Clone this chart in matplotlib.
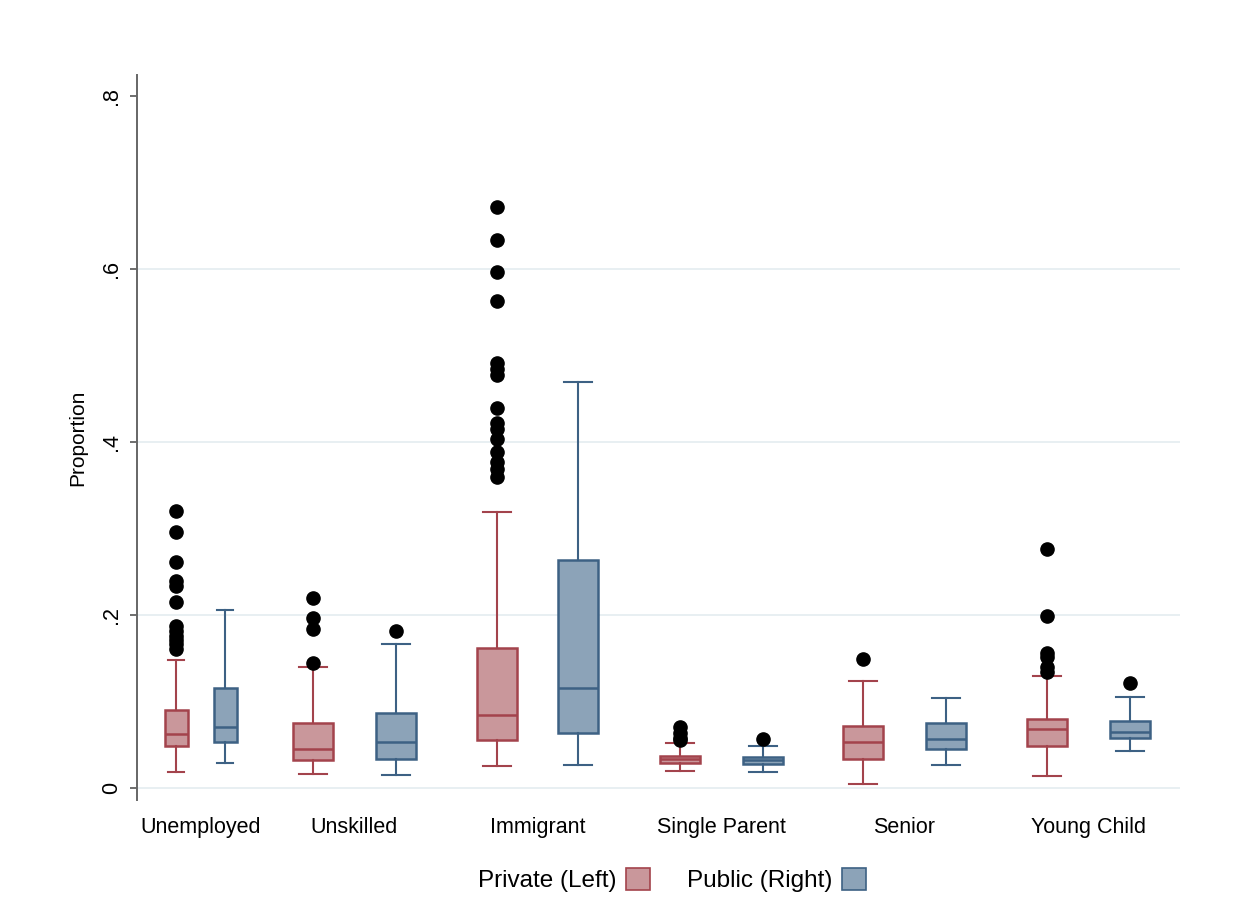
import matplotlib

matplotlib.use("Agg")
import matplotlib.pyplot as plt
from matplotlib.patches import Patch

plt.rcParams["font.family"] = ["Liberation Sans", "DejaVu Sans"]

# Data (box summary stats per group)
categories = ["Unemployed", "Unskilled", "Immigrant", "Single Parent",
              "Senior", "Young Child"]

priv_q1 = [0.049, 0.032, 0.056, 0.0285, 0.0335, 0.048]
priv_med = [0.062, 0.045, 0.084, 0.033, 0.053, 0.068]
priv_q3 = [0.090, 0.075, 0.162, 0.037, 0.072, 0.080]
priv_lo = [0.019, 0.016, 0.025, 0.020, 0.005, 0.0135]
priv_hi = [0.148, 0.140, 0.319, 0.052, 0.124, 0.129]
priv_out = [
    [0.320, 0.296, 0.261, 0.239, 0.233, 0.215, 0.187, 0.181, 0.176,
     0.171, 0.166, 0.161],
    [0.220, 0.197, 0.184, 0.145],
    [0.672, 0.633, 0.596, 0.563, 0.491, 0.484, 0.477, 0.439, 0.422,
     0.415, 0.404, 0.389, 0.377, 0.369, 0.360],
    [0.070, 0.063, 0.058, 0.055],
    [0.149],
    [0.276, 0.199, 0.156, 0.151, 0.140, 0.1345],
]

pub_q1 = [0.0535, 0.034, 0.064, 0.028, 0.045, 0.0575]
pub_med = [0.070, 0.053, 0.116, 0.032, 0.057, 0.065]
pub_q3 = [0.116, 0.087, 0.264, 0.036, 0.075, 0.078]
pub_lo = [0.029, 0.015, 0.027, 0.019, 0.026, 0.043]
pub_hi = [0.206, 0.166, 0.469, 0.049, 0.104, 0.105]
pub_out = [[], [0.1815], [], [0.0566], [], [0.121]]

# Layout (x in plot-region pixels, measured from the y axis)
PRIV_X = [39, 176, 360, 543, 726, 910]
PUB_X = [88, 259, 441, 626, 809, 993]
WIDTHS = [23, 40, 40, 40, 40, 40]

C_PRIV_FILL, C_PRIV_EDGE = "#c9979b", "#a3434c"
C_PUB_FILL, C_PUB_EDGE = "#8ca3b8", "#3d6184"


def stats(q1, med, q3, lo, hi, out):
    return [dict(q1=a, med=b, q3=c, whislo=d, whishi=e, fliers=f)
            for a, b, c, d, e, f in zip(q1, med, q3, lo, hi, out)]


def draw(ax, st, pos, fill, edge):
    ax.bxp(st, positions=pos, widths=WIDTHS,
           capwidths=[w * 0.68 for w in WIDTHS], patch_artist=True,
           boxprops=dict(facecolor=fill, edgecolor=edge, linewidth=1.8),
           medianprops=dict(color=edge, linewidth=1.8),
           whiskerprops=dict(color=edge, linewidth=1.5),
           capprops=dict(color=edge, linewidth=1.5),
           flierprops=dict(marker="o", markerfacecolor="black",
                           markeredgecolor="black", markersize=9.5))


fig = plt.figure(figsize=(12.49, 9.09), dpi=100)
ax = fig.add_axes([137 / 1249, 109 / 909, 1043 / 1249, 725 / 909])

for yv in [0, 0.2, 0.4, 0.6]:
    ax.axhline(yv, color="#e6eef1", lw=1.3, zorder=0)

draw(ax, stats(priv_q1, priv_med, priv_q3, priv_lo, priv_hi, priv_out),
     PRIV_X, C_PRIV_FILL, C_PRIV_EDGE)
draw(ax, stats(pub_q1, pub_med, pub_q3, pub_lo, pub_hi, pub_out),
     PUB_X, C_PUB_FILL, C_PUB_EDGE)

ax.set_xlim(0, 1043)
ax.set_ylim(-0.0139, 0.8243)
ax.set_xticks([(a + b) / 2 for a, b in zip(PRIV_X, PUB_X)])
ax.set_xticklabels(categories, fontsize=15.5)
ax.tick_params(axis="x", length=0, pad=12)
ax.set_yticks([0, 0.2, 0.4, 0.6, 0.8])
ax.set_yticklabels(["0", ".2", ".4", ".6", ".8"], rotation=90, va="center",
                   fontsize=15.5)
ax.tick_params(axis="y", length=5, width=1.2, color="#555555", pad=6)
ax.set_ylabel("Proportion", fontsize=15, labelpad=10)
for s in ["top", "right", "bottom"]:
    ax.spines[s].set_visible(False)
ax.spines["left"].set_color("#666666")
ax.spines["left"].set_linewidth(1.4)

handles = [Patch(facecolor=C_PRIV_FILL, edgecolor=C_PRIV_EDGE, lw=1.2),
           Patch(facecolor=C_PUB_FILL, edgecolor=C_PUB_EDGE, lw=1.2)]
fig.legend(handles, ["Private (Left)", "Public (Right)"], loc="center",
           bbox_to_anchor=(0.538, 0.032), ncol=2, frameon=False,
           markerfirst=False, fontsize=17.5, handlelength=1.0,
           handleheight=1.0, handletextpad=0.4, columnspacing=1.5)

fig.savefig("out.png")
